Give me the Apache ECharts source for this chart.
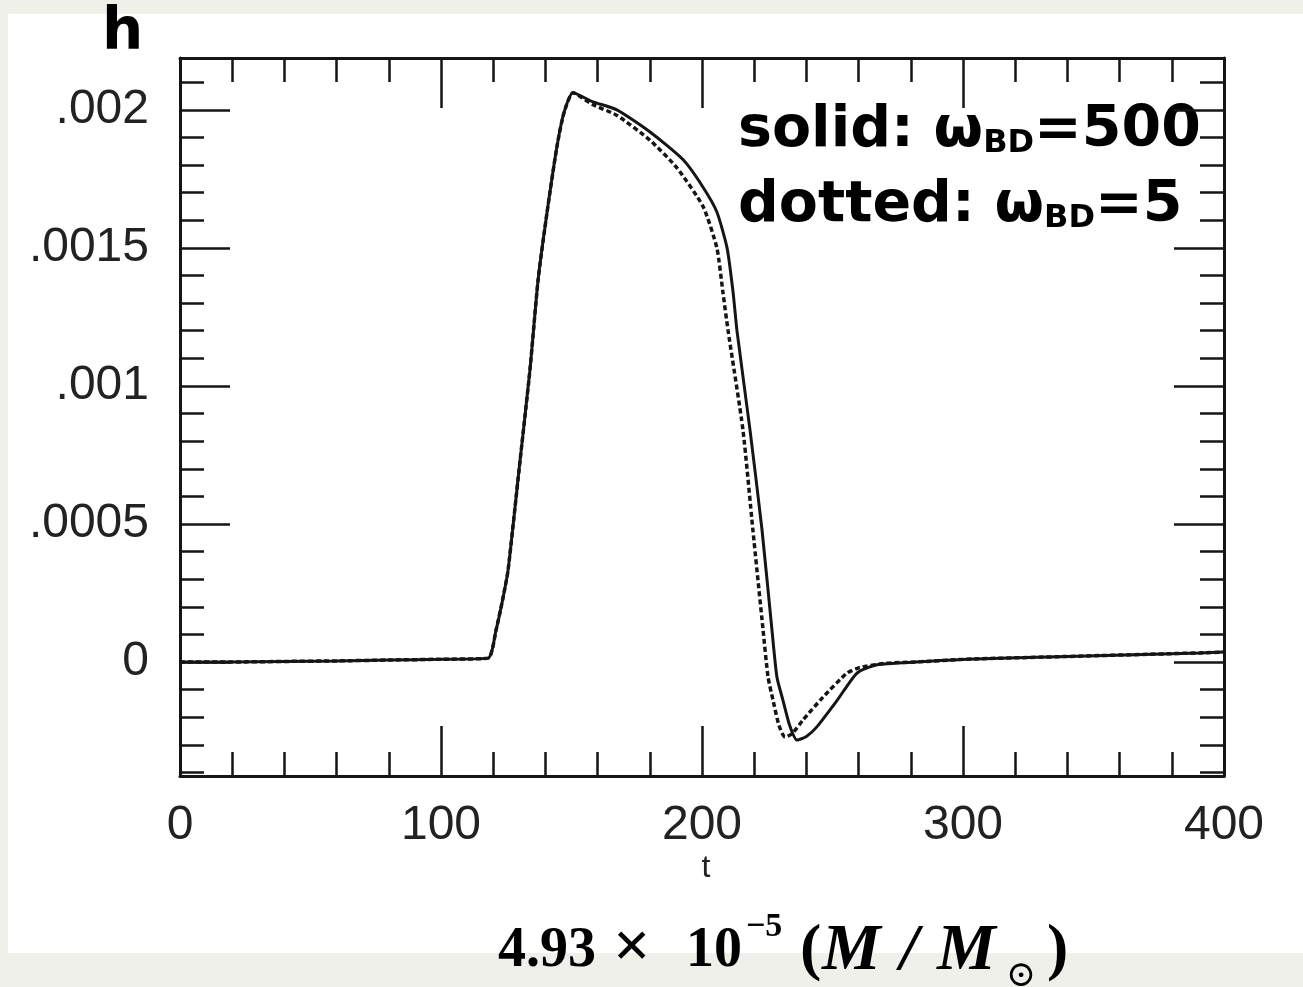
<!DOCTYPE html>
<html>
<head>
<meta charset="utf-8">
<script src="https://cdn.jsdelivr.net/npm/echarts@6/dist/echarts.min.js"></script>
<style>
html,body{margin:0;padding:0;background:#f0f0eb;}
#chart{position:absolute;left:0;top:0;width:1303px;height:987px;}
</style>
</head>
<body>
<div id="chart"></div>
<script>
// ---- data ----
const solidT = [0, 20, 40, 60, 80, 100, 118, 121.1, 123.6, 125.7, 129.9, 134.1, 137.2, 140.6, 144.4, 147.1, 150.6,
  158, 167.4, 180.1, 192.7, 200.4, 205.7, 209.6, 211.9, 213.4, 218.4, 223, 226.8, 228.7, 231, 233.6, 236.4, 240, 244, 251.7, 259.4, 267, 282, 301.5, 340, 390.8, 400];
const solidH = [0, 0, 0.000002, 0.000004, 0.000007, 0.00001, 0.000014, 0.000116, 0.000225, 0.000333, 0.000696, 0.00106, 0.001384, 0.001627, 0.001866, 0.001989, 0.002062,
  0.00203, 0.002, 0.00192, 0.00182, 0.00172, 0.00163, 0.0015, 0.00134, 0.0012, 0.00084, 0.000478, 0.000116, -0.000054, -0.000138, -0.00023, -0.000283, -0.00027, -0.000235, -0.00014, -0.00004, -0.00001, 0, 0.00001, 0.00002, 0.000033, 0.000036];
const dottedT = [0, 20, 40, 60, 80, 100, 118, 121.1, 123.6, 125.7, 129.9, 134.1, 137.2, 140.6, 144.4, 147.1, 150.6,
  158, 167.4, 180.1, 190.4, 200.4, 205.7, 208, 210, 215.7, 219.5, 223.4, 225.3, 227.2, 229.5, 231.8, 234.5, 238.7, 246.4, 255.6, 260.5, 270, 282, 301.5, 340, 390.8, 400];
const dottedH = [0, 0, 0.000002, 0.000004, 0.000007, 0.00001, 0.000014, 0.000116, 0.000225, 0.000333, 0.000696, 0.00106, 0.001384, 0.001627, 0.001866, 0.001989, 0.002062,
  0.00202, 0.00198, 0.00189, 0.00179, 0.00165, 0.0015, 0.00134, 0.0012, 0.00084, 0.000478, 0.000116, -0.000054, -0.000138, -0.00023, -0.000272, -0.00026, -0.00021, -0.000127, -0.00004, -0.00002, -0.000005, 0, 0.00001, 0.00002, 0.000033, 0.000036];
const xTickLabels = ['0', '100', '200', '300', '400'];
const yTickValues = [0, 0.0005, 0.001, 0.0015, 0.002];
const yTickLabels = ['0', '.0005', '.001', '.0015', '.002'];
const yMinorTicks = [-0.0004, -0.0003, -0.0002, -0.0001, 0, 0.0001, 0.0002, 0.0003, 0.0004, 0.0005, 0.0006, 0.0007, 0.0008, 0.0009, 0.001,
  0.0011, 0.0012, 0.0013, 0.0014, 0.0015, 0.0016, 0.0017, 0.0018, 0.0019, 0.002, 0.0021];
const Y_MIN = -0.000413, Y_MAX = 0.002188;

const INK = '#151515';
const chart = echarts.init(document.getElementById('chart'));

function yLabel(v) {
  let best = 0, d = Infinity;
  yTickValues.forEach((tv, i) => { const dd = Math.abs(tv - v); if (dd < d) { d = dd; best = i; } });
  return yTickLabels[best];
}
function xLabel(v) {
  const i = Math.round(v / 100);
  return xTickLabels[i] !== undefined ? xTickLabels[i] : '';
}

const lineAx = { show: true, onZero: false, lineStyle: { color: INK, width: 3 } };
const labelFont = { fontFamily: 'Liberation Sans', fontSize: 48, color: '#222' };

function xAx(pos, labels) {
  return {
    type: 'value', position: pos, min: 0, max: 400, interval: 100,
    axisLine: lineAx,
    axisTick: { show: true, inside: true, length: 50, lineStyle: { color: INK, width: 2.5 } },
    minorTick: { show: true, splitNumber: 5, length: 24, lineStyle: { color: INK, width: 2.5 } },
    axisLabel: labels ? Object.assign({ show: true, margin: 26, formatter: xLabel }, labelFont) : { show: false },
    splitLine: { show: false }, minorSplitLine: { show: false }
  };
}
function yAx(pos, major, labels, showLine) {
  return {
    type: 'value', position: pos, min: Y_MIN, max: Y_MAX,
    axisLine: showLine ? lineAx : { show: false, onZero: false },
    axisTick: { show: true, inside: true, length: major ? 50 : 24, customValues: major ? yTickValues : yMinorTicks,
      lineStyle: { color: INK, width: 2.5 } },
    axisLabel: labels ? Object.assign({ show: true, margin: 31, customValues: yTickValues, formatter: yLabel }, labelFont) : { show: false },
    splitLine: { show: false }
  };
}

// formula pieces: text, font, left x, vertical centre y
function piece(text, font, x, yc) {
  return { type: 'text', x: x, y: yc, style: { text: text, font: font, fill: '#000', textAlign: 'left', textVerticalAlign: 'middle' } };
}
const SB = 'bold 56px "Liberation Serif"';
const SBI = 'italic bold 66px "Liberation Serif"';

const option = {
  backgroundColor: '#f0f0eb',
  animation: false,
  grid: { left: 180, right: 79, top: 58, bottom: 211, containLabel: false },
  xAxis: [xAx('bottom', true), xAx('top', false)],
  yAxis: [yAx('left', true, true, true), yAx('left', false, false, false), yAx('right', true, false, true), yAx('right', false, false, false)],
  graphic: [
    { type: 'rect', z: -100, silent: true, shape: { x: 8, y: 14, width: 1295, height: 939 }, style: { fill: '#ffffff' } },
    { type: 'text', x: 102, y: 34, style: { text: 'h', font: 'bold 58px "DejaVu Sans"', fill: '#000', textVerticalAlign: 'middle' } },
    { type: 'text', x: 706, y: 868, style: { text: 't', font: '32px "Liberation Sans"', fill: '#222', textAlign: 'center', textVerticalAlign: 'middle' } },
    { type: 'text', x: 738, y: 85, style: {
        text: '{a|solid: ω}{b|BD}{a|=500}\n{a|dotted: ω}{b|BD}{a|=5}',
        rich: {
          a: { font: 'bold 57px "DejaVu Sans"', fill: '#000', lineHeight: 75, verticalAlign: 'bottom' },
          b: { font: 'bold 32px "DejaVu Sans"', fill: '#000', lineHeight: 36, verticalAlign: 'bottom' }
        }
      } },
    piece('4.93', SB, 498, 952),
    piece('×', 'bold 66px "Liberation Serif"', 613, 950),
    piece('10', SB, 686, 952),
    piece('−5', 'bold 34px "Liberation Serif"', 746, 927),
    piece('(', 'bold 64px "Liberation Serif"', 800, 951),
    piece('M', SBI, 822, 952),
    piece('/', SBI, 900, 952),
    piece('M', SBI, 937, 952),
    piece('⊙', '36px "DejaVu Serif"', 1006, 977),
    piece(')', 'bold 64px "Liberation Serif"', 1047, 951)
  ],
  series: [
    { name: 'solid', type: 'line', xAxisIndex: 0, yAxisIndex: 0, showSymbol: false, symbol: 'none', smooth: 0.2,
      data: solidT.map((t, i) => [t, solidH[i]]),
      lineStyle: { color: INK, width: 3 }, z: 3 },
    { name: 'dotted', type: 'line', xAxisIndex: 0, yAxisIndex: 0, showSymbol: false, symbol: 'none', smooth: 0.2,
      data: dottedT.map((t, i) => [t, dottedH[i]]),
      lineStyle: { color: INK, width: 3.5, type: [5, 3] }, z: 4 }
  ]
};
chart.setOption(option);
</script>
</body>
</html>
